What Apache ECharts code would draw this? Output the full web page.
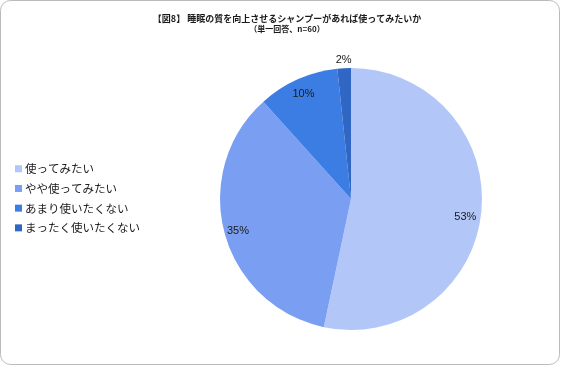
<!DOCTYPE html>
<html><head><meta charset="utf-8">
<script src="https://cdn.jsdelivr.net/npm/echarts@6/dist/echarts.min.js"></script>
<style>html,body{margin:0;padding:0;background:#fff}#c{width:562px;height:366px}</style>
</head><body><div id="c"></div>
<script>
const titleText = '【図8】 睡眠の質を向上させるシャンプーがあれば使ってみたいか';
const subtitleText = '（単一回答、n=60）';
const categories = ['使ってみたい', 'やや使ってみたい', 'あまり使いたくない', 'まったく使いたくない'];
const counts = [32, 21, 6, 1];
const colors = ['#b3c6f8', '#7a9ef2', '#3c7de3', '#3066c4'];
const outsideLabel = [false, false, false, true];

const FONT = '"Noto Sans CJK JP", "Noto Sans", sans-serif';
const LFONT = '"Liberation Sans", Arial, sans-serif';
const center = [351, 199];
const R = 131;

const baseData = categories.map((n, i) => ({ name: n, value: counts[i], itemStyle: { color: colors[i] } }));
const innerLabelData = categories.map((n, i) => ({ name: n, value: counts[i], label: { show: !outsideLabel[i] } }));
innerLabelData[0].label.offset = [-2, 6];
const outerLabelData = categories.map((n, i) => ({ name: n, value: counts[i], label: { show: outsideLabel[i], offset: [0, 2] } }));

const labelStyle = { position: 'inside', formatter: '{d}%', fontSize: 11, color: '#1a1a1a', fontFamily: LFONT, offset: [0, 2] };
const overlayCommon = {
  type: 'pie', center, startAngle: 90, clockwise: true, silent: true, percentPrecision: 0,
  itemStyle: { color: 'rgba(0,0,0,0)', borderWidth: 0 }, labelLine: { show: false },
  emphasis: { disabled: true }, legendHoverLink: false, animation: false
};

const chart = echarts.init(document.getElementById('c'), null, { renderer: 'canvas' });
chart.setOption({
  animation: false,
  title: {
    text: titleText, subtext: subtitleText, left: 282, textAlign: 'center', top: 9, itemGap: 2,
    textStyle: { fontSize: 9, fontWeight: 'bold', color: '#1a1a1a', fontFamily: FONT },
    subtextStyle: { fontSize: 8, fontWeight: 'bold', color: '#1a1a1a', fontFamily: FONT }
  },
  legend: {
    orient: 'vertical', left: 10, top: 158, itemWidth: 7, itemHeight: 7, itemGap: 8.2,
    icon: 'rect', data: categories,
    textStyle: { fontSize: 11.5, color: '#1a1a1a', fontFamily: FONT, padding: [0, 0, 0, -2] }
  },
  graphic: [{
    type: 'rect', silent: true, z: -1,
    shape: { x: 0.5, y: 0.5, width: 559, height: 364, r: 10 },
    style: { fill: 'none', stroke: '#bbbbbb', lineWidth: 1 }
  }],
  series: [
    {
      type: 'pie', center, radius: [0, R], startAngle: 90, clockwise: true,
      data: baseData, label: { show: false }, labelLine: { show: false },
      itemStyle: { borderWidth: 0 }, emphasis: { disabled: true }
    },
    Object.assign({}, overlayCommon, { radius: [R - 34, R], data: innerLabelData, label: labelStyle }),
    Object.assign({}, overlayCommon, { radius: [R, R + 14], data: outerLabelData, label: labelStyle })
  ]
});
</script></body></html>
